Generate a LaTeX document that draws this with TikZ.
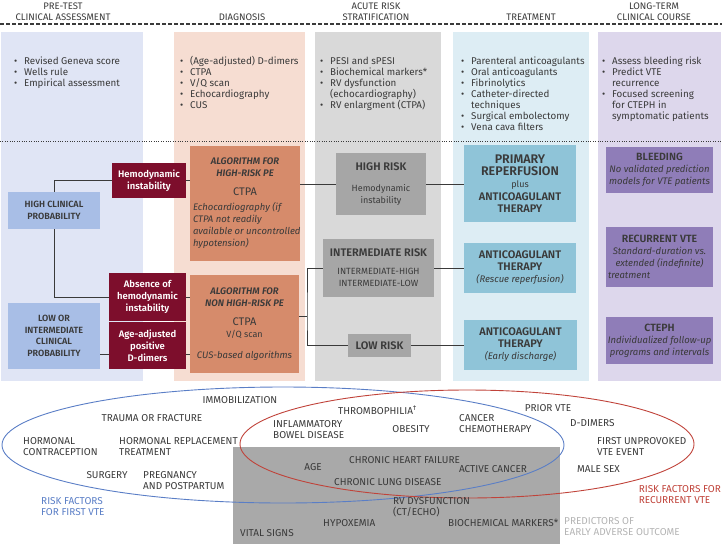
\documentclass[tikz,border=0pt]{standalone}
\usepackage{fontspec}
\setmainfont{Fira Sans}[BoldFont={Fira Sans SemiBold},BoldItalicFont={Fira Sans SemiBold Italic}]
\usetikzlibrary{calc}

\definecolor{ink}{HTML}{3A3A3A}
\definecolor{colpre}{HTML}{E0E5F5}
\definecolor{coldiag}{HTML}{F6DDD2}
\definecolor{colrisk}{HTML}{D9D9D9}
\definecolor{coltreat}{HTML}{DDEDF4}
\definecolor{colcourse}{HTML}{DDD7EC}
\definecolor{probblue}{HTML}{A8BEE6}
\definecolor{wine}{HTML}{7D0E2C}
\definecolor{algorange}{HTML}{D68B6B}
\definecolor{riskgray}{HTML}{A6A6A6}
\definecolor{treatblue}{HTML}{8FC4D8}
\definecolor{coursepurple}{HTML}{8F7DB8}
\definecolor{firstblue}{HTML}{5A7EC6}
\definecolor{recurred}{HTML}{C0433A}
\definecolor{predgray}{HTML}{B4B4B4}
\definecolor{adversegray}{HTML}{A9A9A9}

\newcommand\dghdr{\fontsize{9.5}{11}\selectfont}
\newcommand\dgsmall{\fontsize{9.8}{11}\selectfont}
\newcommand\dgbody{\fontsize{9}{12}\selectfont}
\newcommand\dghead{\fontsize{11}{12.5}\selectfont\bfseries}
\newcommand\dgbig{\fontsize{12.5}{13}\selectfont\bfseries}
\newcommand\dgcourse{\fontsize{10.5}{13}\selectfont\bfseries}
\newcommand\dgprob{\fontsize{9}{11.5}\selectfont\bfseries}
\newcommand\dginst{\fontsize{9.5}{12}\selectfont\bfseries}
\newcommand\dgital{\fontsize{9.5}{12.3}\selectfont\itshape}
\newcommand\dgalg{\fontsize{9.5}{13}\selectfont\bfseries\itshape}
\newcommand\dgfac{\fontsize{10}{11.2}\selectfont}
\newcommand\bu{\makebox[10pt][l]{\textbullet}}
\newcommand\bi{\hspace*{10pt}}

\begin{document}
\begin{tikzpicture}[x=1pt,y=-1pt,
    hdr/.style={font=\dghdr,text=ink,align=center,inner sep=0pt,anchor=south},
    blist/.style={font=\dgsmall,text=ink,align=left,inner sep=0pt,anchor=north west},
    box/.style={inner sep=2pt,align=center,text=ink,font=\dgbody},
    probbox/.style={box,fill=probblue,font=\dgprob,minimum width=92pt},
    instbox/.style={box,fill=wine,text=white,font=\dginst},
    algbox/.style={box,fill=algorange},
    riskbox/.style={box,fill=riskgray},
    treatbox/.style={box,fill=treatblue},
    coursebox/.style={box,fill=coursepurple,minimum width=107pt},
    conn/.style={draw=ink,line width=0.8pt},
    factor/.style={font=\dgfac,text=ink,align=left,inner sep=0pt},
  ]
  \useasboundingbox (0,0) rectangle (722,544);

  % column headings
  \node[hdr] (hpre) at (63,21) {PRE-TEST\\CLINICAL ASSESSMENT};
  \node[hdr] (hdiag) at (242,21) {DIAGNOSIS};
  \node[hdr] (hrisk) at (376,21) {ACUTE RISK\\STRATIFICATION};
  \node[hdr] (htreat) at (531,21) {TREATMENT};
  \node[hdr] (hcourse) at (654,21) {LONG-TERM\\CLINICAL COURSE};
  \draw[ink,line width=2.2pt,dash pattern=on 4pt off 2pt] (0,24) -- (722,24);

  % column backgrounds
  \fill[colpre] (1,32) rectangle (143,381);
  \fill[coldiag] (174,32) rectangle (305,381);
  \fill[colrisk] (315,32) rectangle (441,381);
  \fill[coltreat] (453,32) rectangle (589,381);
  \fill[colcourse] (598,32) rectangle (721,381);
  \draw[ink,line width=0.8pt,dash pattern=on 1pt off 1.4pt] (0,141) -- (722,141);

  % bullet lists
  \node[blist] (lpre) at (14,56.5) {\bu Revised Geneva score\\\bu Wells rule\\\bu Empirical assessment};
  \node[blist] (ldiag) at (180,56.5) {\bu (Age-adjusted) D-dimers\\\bu CTPA\\\bu V/Q scan\\\bu Echocardiography\\\bu CUS};
  \node[blist] (lrisk) at (320,56.5) {\bu PESI and sPESI\\\bu Biochemical markers*\\\bu RV dysfunction\\\bi(echocardiography)\\\bu RV enlargment (CTPA)};
  \node[blist] (ltreat) at (461,56.5) {\bu Parenteral anticoagulants\\\bu Oral anticoagulants\\\bu Fibrinolytics\\\bu Catheter-directed\\\bi techniques\\\bu Surgical embolectomy\\\bu Vena cava filters};
  \node[blist] (lcourse) at (602,56.5) {\bu Assess bleeding risk\\\bu Predict VTE\\\bi recurrence\\\bu Focused screening\\\bi for CTEPH in\\\bi symptomatic patients};

  % pathway boxes
  \node[probbox,minimum height=37pt] (hcp) at (54,210.5) {HIGH CLINICAL\\PROBABILITY};
  \node[probbox,minimum height=66pt] (lowp) at (54,336) {LOW OR\\INTERMEDIATE\\CLINICAL\\PROBABILITY};
  \node[instbox,minimum width=74pt,minimum height=35pt] (hemo) at (149,180.5) {Hemodynamic\\instability};
  \node[instbox,minimum width=77pt,minimum height=48pt] (absn) at (147.5,297) {Absence of\\hemodynamic\\instability};
  \node[instbox,minimum width=77pt,minimum height=47pt] (agedd) at (147.5,345.5) {Age-adjusted\\positive\\D-dimers};
  \node[algbox,minimum width=110pt,minimum height=115pt] (alghi) at (245,203.5)
    {{\dgalg ALGORITHM FOR}\\{\dgalg HIGH-RISK PE}\\[7pt]{\fontsize{11}{13}\selectfont CTPA}\\[3pt]
     {\dgital\makebox[104pt][l]{Echocardiography (if}}\\{\dgital\makebox[104pt][l]{CTPA not readily}}\\
     {\dgital\makebox[104pt][l]{available or uncontrolled}}\\{\dgital\makebox[104pt][l]{hypotension)}}};
  \node[algbox,minimum width=109pt,minimum height=98pt] (alglo) at (244.5,324)
    {{\dgalg ALGORITHM FOR}\\{\dgalg NON HIGH-RISK PE}\\[7pt]{\fontsize{11}{13}\selectfont CTPA}\\V/Q scan\\[9pt]{\dgital CUS-based algorithms}};
  \node[riskbox,minimum width=90pt,minimum height=62pt] (hirisk) at (381,184) {{\dghead HIGH RISK}\\[9pt]Hemodynamic\\instability};
  \node[riskbox,minimum width=111pt,minimum height=58pt] (intrisk) at (378.5,268) {{\dghead INTERMEDIATE RISK}\\[6pt]INTERMEDIATE-HIGH\\INTERMEDIATE-LOW};
  \node[riskbox,minimum width=63pt,minimum height=23pt] (lowrisk) at (379.5,345.5) {{\dghead LOW RISK}};
  \node[treatbox,minimum width=112pt,minimum height=77pt] (primrep) at (520,183.5) {{\dgbig PRIMARY}\\{\dgbig REPERFUSION}\\plus\\[1pt]{\dghead ANTICOAGULANT}\\{\dghead THERAPY}};
  \node[treatbox,minimum width=112pt,minimum height=50pt] (rescue) at (520,268) {{\dghead ANTICOAGULANT}\\{\dghead THERAPY}\\{\dgital (Rescue reperfusion)}};
  \node[treatbox,minimum width=113pt,minimum height=50pt] (early) at (520.5,345) {{\dghead ANTICOAGULANT}\\{\dghead THERAPY}\\{\dgital (Early discharge)}};
  \node[coursebox,minimum height=46pt] (bleed) at (659.5,170) {{\dgcourse BLEEDING}\\{\dgital No validated prediction}\\{\dgital models for VTE patients}};
  \node[coursebox,minimum height=60pt] (recur) at (659.5,257) {{\dgcourse RECURRENT VTE}\\{\dgital Standard-duration vs.}\\{\dgital extended (indefinite)}\\{\dgital\makebox[103pt][l]{treatment}}};
  \node[coursebox,minimum height=47pt] (cteph) at (659.5,340.5) {{\dgcourse CTEPH}\\{\dgital Individualized follow-up}\\{\dgital programs and intervals}};

  % connectors
  \coordinate (split) at (307,316);
  \draw[conn] (hcp.north) |- (hemo.west);
  \draw[conn] (hcp.south) |- (absn.west);
  \draw[conn] ([yshift=-8.5pt]agedd.west) -- ([yshift=-8.5pt]agedd.west -| lowp.east);
  \draw[conn] (hemo.east) -- (hemo.east -| alghi.west);
  \draw[conn] (absn.east) -- (absn.east -| alglo.west);
  \draw[conn] ([yshift=-8.5pt]agedd.east) -- ([yshift=-8.5pt]agedd.east -| alglo.west);
  \draw[conn] (hirisk.west -| alghi.east) -- (hirisk.west);
  \draw[conn] (hirisk.east) -- (hirisk.east -| primrep.west);
  \draw[conn] (alglo.east |- split) -- (split);
  \draw[conn] (intrisk.west) -| (split) |- (lowrisk.west);
  \draw[conn] (intrisk.east) -- (intrisk.east -| rescue.west);
  \draw[conn] (lowrisk.east) -- (lowrisk.east -| early.west);

  % risk factors and predictors
  \fill[adversegray] (233,447) rectangle (560,544);
  \draw[firstblue,line width=0.9pt] (283,445) ellipse [x radius=281,y radius=58];
  \draw[recurred,line width=0.9pt] (467,444) ellipse [x radius=227,y radius=54];

  \node[factor] (immob) at (240,400) {IMMOBILIZATION};
  \node[factor] (trauma) at (152,418) {TRAUMA OR FRACTURE};
  \node[factor,anchor=west] (hcontra) at (23,446.5) {HORMONAL\\CONTRACEPTION};
  \node[factor,anchor=west] (hrepl) at (119,446.5) {HORMONAL REPLACEMENT\\TREATMENT};
  \node[factor] (surg) at (107,475) {SURGERY};
  \node[factor,anchor=west] (preg) at (143,480.5) {PREGNANCY\\AND POSTPARTUM};
  \node[factor,anchor=west,text=firstblue] (lfirst) at (41,506.5) {RISK FACTORS\\FOR FIRST VTE};
  \node[factor,anchor=west] (ibd) at (273,429.5) {INFLAMMATORY\\BOWEL DISEASE};
  \node[factor,anchor=west] (thromb) at (338,410) {THROMBOPHILIA\textsuperscript{†}};
  \node[factor] (obes) at (411,429) {OBESITY};
  \node[factor,anchor=west] (chemo) at (459,423.5) {CANCER\\CHEMOTHERAPY};
  \node[factor] (prior) at (548,408) {PRIOR VTE};
  \node[factor,anchor=west] (ddim) at (570,423) {D-DIMERS};
  \node[factor,anchor=west] (unprov) at (597,446.5) {FIRST UNPROVOKED\\VTE EVENT};
  \node[factor,anchor=west] (male) at (577,469) {MALE SEX};
  \node[factor] (age) at (313,467) {AGE};
  \node[factor,anchor=west] (chf) at (349,460) {CHRONIC HEART FAILURE};
  \node[factor] (actca) at (493,469) {ACTIVE CANCER};
  \node[factor,anchor=west] (cld) at (334,482) {CHRONIC LUNG DISEASE};
  \node[factor,anchor=east,text=recurred] (lrecur) at (721,494.5) {RISK FACTORS FOR\\RECURRENT VTE};
  \node[factor,anchor=west] (rvdys) at (393,507.5) {RV DYSFUNCTION\\(CT/ECHO)};
  \node[factor,anchor=west] (hypox) at (323,523) {HYPOXEMIA};
  \node[factor,anchor=west] (vital) at (240,533) {VITAL SIGNS};
  \node[factor,anchor=west] (biochem) at (448,523) {BIOCHEMICAL MARKERS*};
  \node[factor,anchor=west,text=predgray] (lpred) at (564,526.5) {PREDICTORS OF\\EARLY ADVERSE OUTCOME};
\end{tikzpicture}
\end{document}
